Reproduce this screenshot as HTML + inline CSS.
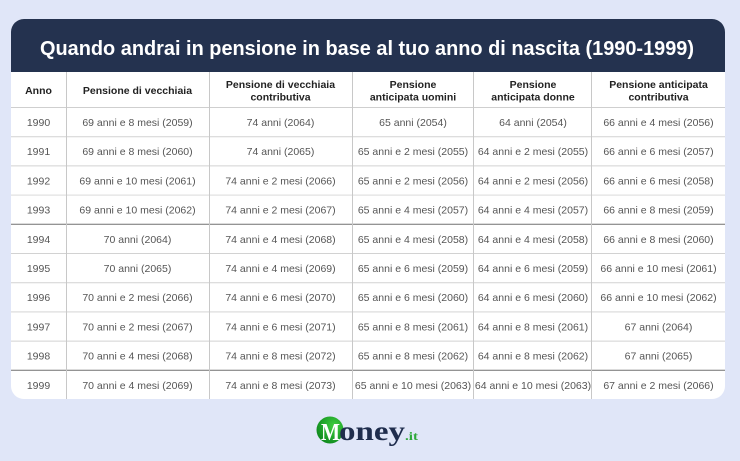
<!DOCTYPE html>
<html>
<head>
<meta charset="utf-8">
<style>
html,body{margin:0;padding:0;background:#e0e6f8;}
svg{display:block;}
.h{font-family:"Liberation Sans",sans-serif;font-weight:bold;font-size:10.5px;fill:#222;text-anchor:middle;}
.c{font-family:"Liberation Sans",sans-serif;font-size:10.5px;fill:#555;text-anchor:middle;}
</style>
</head>
<body>
<svg width="740" height="461" viewBox="0 0 740 461" xmlns="http://www.w3.org/2000/svg">
<defs>
<clipPath id="card"><rect x="11" y="19" width="714" height="380" rx="13" ry="13"/></clipPath>
<radialGradient id="g" cx="0.65" cy="0.35" r="0.7">
<stop offset="0" stop-color="#3fcf3f"/>
<stop offset="1" stop-color="#0f8a1f"/>
</radialGradient>
</defs>
<rect width="740" height="461" fill="#e0e6f8"/>
<g clip-path="url(#card)">
<rect x="11" y="19" width="714" height="380" fill="#ffffff"/>
<rect x="11" y="19" width="714" height="53" fill="#24324f"/>
<!-- horizontal lines -->
<g stroke-width="1">
<line x1="11" x2="725" y1="107.5" y2="107.5" stroke="#cfcfcf"/>
<line x1="11" x2="725" y1="136.7" y2="136.7" stroke="#d2d2d2"/>
<line x1="11" x2="725" y1="165.9" y2="165.9" stroke="#d2d2d2"/>
<line x1="11" x2="725" y1="195.1" y2="195.1" stroke="#e6e6e6" stroke-width="1.5"/>
<line x1="11" x2="725" y1="224.3" y2="224.3" stroke="#707070"/>
<line x1="11" x2="725" y1="253.5" y2="253.5" stroke="#d2d2d2"/>
<line x1="11" x2="725" y1="282.7" y2="282.7" stroke="#d2d2d2"/>
<line x1="11" x2="725" y1="311.9" y2="311.9" stroke="#e2e2e2" stroke-width="1.5"/>
<line x1="11" x2="725" y1="341.1" y2="341.1" stroke="#d2d2d2"/>
<line x1="11" x2="725" y1="370.3" y2="370.3" stroke="#707070"/>
</g>
<!-- vertical lines -->
<g stroke="#c8c8c8" stroke-width="1">
<line x1="66.5" x2="66.5" y1="72" y2="399"/>
<line x1="209.5" x2="209.5" y1="72" y2="399"/>
<line x1="352.5" x2="352.5" y1="72" y2="399"/>
<line x1="473.5" x2="473.5" y1="72" y2="399"/>
<line x1="591.5" x2="591.5" y1="72" y2="399"/>
</g>
</g>
<text x="40" y="55" textLength="654" lengthAdjust="spacingAndGlyphs" font-family="Liberation Sans, sans-serif" font-weight="bold" font-size="20" fill="#ffffff">Quando andrai in pensione in base al tuo anno di nascita (1990-1999)</text>

<!-- header -->
<text class="h" x="38.5" y="94">Anno</text>
<text class="h" x="137.5" y="94">Pensione di vecchiaia</text>
<text class="h" x="280.5" y="88">Pensione di vecchiaia</text>
<text class="h" x="280.5" y="100.5">contributiva</text>
<text class="h" x="413" y="88">Pensione</text>
<text class="h" x="413" y="100.5">anticipata uomini</text>
<text class="h" x="533" y="88">Pensione</text>
<text class="h" x="533" y="100.5">anticipata donne</text>
<text class="h" x="658.5" y="88">Pensione anticipata</text>
<text class="h" x="658.5" y="100.5">contributiva</text>

<!-- rows -->
<g class="c">
<text class="c" x="38.5" y="126">1990</text><text class="c" x="137.5" y="126">69 anni e 8 mesi (2059)</text><text class="c" x="280.5" y="126">74 anni (2064)</text><text class="c" x="413" y="126">65 anni (2054)</text><text class="c" x="533" y="126">64 anni (2054)</text><text class="c" x="658.5" y="126">66 anni e 4 mesi (2056)</text>
<text class="c" x="38.5" y="155.2">1991</text><text class="c" x="137.5" y="155.2">69 anni e 8 mesi (2060)</text><text class="c" x="280.5" y="155.2">74 anni (2065)</text><text class="c" x="413" y="155.2">65 anni e 2 mesi (2055)</text><text class="c" x="533" y="155.2">64 anni e 2 mesi (2055)</text><text class="c" x="658.5" y="155.2">66 anni e 6 mesi (2057)</text>
<text class="c" x="38.5" y="184.4">1992</text><text class="c" x="137.5" y="184.4">69 anni e 10 mesi (2061)</text><text class="c" x="280.5" y="184.4">74 anni e 2 mesi (2066)</text><text class="c" x="413" y="184.4">65 anni e 2 mesi (2056)</text><text class="c" x="533" y="184.4">64 anni e 2 mesi (2056)</text><text class="c" x="658.5" y="184.4">66 anni e 6 mesi (2058)</text>
<text class="c" x="38.5" y="213.6">1993</text><text class="c" x="137.5" y="213.6">69 anni e 10 mesi (2062)</text><text class="c" x="280.5" y="213.6">74 anni e 2 mesi (2067)</text><text class="c" x="413" y="213.6">65 anni e 4 mesi (2057)</text><text class="c" x="533" y="213.6">64 anni e 4 mesi (2057)</text><text class="c" x="658.5" y="213.6">66 anni e 8 mesi (2059)</text>
<text class="c" x="38.5" y="242.8">1994</text><text class="c" x="137.5" y="242.8">70 anni (2064)</text><text class="c" x="280.5" y="242.8">74 anni e 4 mesi (2068)</text><text class="c" x="413" y="242.8">65 anni e 4 mesi (2058)</text><text class="c" x="533" y="242.8">64 anni e 4 mesi (2058)</text><text class="c" x="658.5" y="242.8">66 anni e 8 mesi (2060)</text>
<text class="c" x="38.5" y="272">1995</text><text class="c" x="137.5" y="272">70 anni (2065)</text><text class="c" x="280.5" y="272">74 anni e 4 mesi (2069)</text><text class="c" x="413" y="272">65 anni e 6 mesi (2059)</text><text class="c" x="533" y="272">64 anni e 6 mesi (2059)</text><text class="c" x="658.5" y="272">66 anni e 10 mesi (2061)</text>
<text class="c" x="38.5" y="301.2">1996</text><text class="c" x="137.5" y="301.2">70 anni e 2 mesi (2066)</text><text class="c" x="280.5" y="301.2">74 anni e 6 mesi (2070)</text><text class="c" x="413" y="301.2">65 anni e 6 mesi (2060)</text><text class="c" x="533" y="301.2">64 anni e 6 mesi (2060)</text><text class="c" x="658.5" y="301.2">66 anni e 10 mesi (2062)</text>
<text class="c" x="38.5" y="330.4">1997</text><text class="c" x="137.5" y="330.4">70 anni e 2 mesi (2067)</text><text class="c" x="280.5" y="330.4">74 anni e 6 mesi (2071)</text><text class="c" x="413" y="330.4">65 anni e 8 mesi (2061)</text><text class="c" x="533" y="330.4">64 anni e 8 mesi (2061)</text><text class="c" x="658.5" y="330.4">67 anni (2064)</text>
<text class="c" x="38.5" y="359.6">1998</text><text class="c" x="137.5" y="359.6">70 anni e 4 mesi (2068)</text><text class="c" x="280.5" y="359.6">74 anni e 8 mesi (2072)</text><text class="c" x="413" y="359.6">65 anni e 8 mesi (2062)</text><text class="c" x="533" y="359.6">64 anni e 8 mesi (2062)</text><text class="c" x="658.5" y="359.6">67 anni (2065)</text>
<text class="c" x="38.5" y="388.8">1999</text><text class="c" x="137.5" y="388.8">70 anni e 4 mesi (2069)</text><text class="c" x="280.5" y="388.8">74 anni e 8 mesi (2073)</text><text class="c" x="413" y="388.8">65 anni e 10 mesi (2063)</text><text class="c" x="533" y="388.8">64 anni e 10 mesi (2063)</text><text class="c" x="658.5" y="388.8">67 anni e 2 mesi (2066)</text>
</g>

<!-- logo -->
<circle cx="330" cy="430" r="13.5" fill="url(#g)"/>
<text x="321" y="440" textLength="19" lengthAdjust="spacingAndGlyphs" font-family="Liberation Serif, serif" font-weight="bold" font-size="24" fill="#ffffff">M</text>
<text x="339" y="440" textLength="66" lengthAdjust="spacingAndGlyphs" font-family="Liberation Serif, serif" font-weight="bold" font-size="27" fill="#1f2d4d">oney</text>
<text x="405" y="440" textLength="13" lengthAdjust="spacingAndGlyphs" font-family="Liberation Serif, serif" font-weight="bold" font-size="12" fill="#2ea83a">.it</text>
</svg>
</body>
</html>
